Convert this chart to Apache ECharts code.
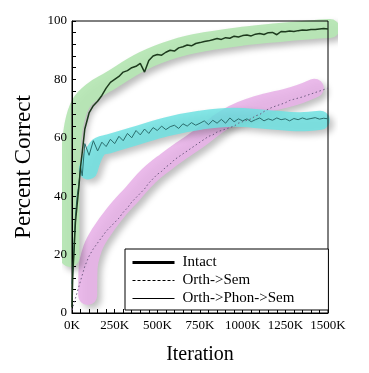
<!DOCTYPE html>
<html><head><meta charset="utf-8">
<script src="https://cdn.jsdelivr.net/npm/echarts@6/dist/echarts.min.js"></script>
<style>html,body{margin:0;padding:0;background:#fff}#c{width:369px;height:373px}</style>
</head><body><div id="c"></div>
<script>
// Iterations in thousands
const iterations = [0,5,10,15,20,30,40,50,60,75,100,125,150,175,200,225,250,275,300,325,350,375,400,425,450,475,500,525,550,575,600,625,650,675,700,725,750,775,800,825,850,875,900,925,950,975,1000,1025,1050,1075,1100,1125,1150,1175,1200,1225,1250,1275,1300,1325,1350,1375,1400,1425,1450,1475,1500];
const intact = [2,14,19,25,31,37,43,50,55,63,68.5,71,72.5,74.5,77,79,80,81,82.5,83,84,84.5,85.5,82.5,86.5,88,88.5,88.3,89.3,90,89.7,90.8,91.2,91.8,91.5,92.3,92.6,93,93.2,93.6,94,93.7,94.3,94.1,94.8,94.5,95,95.2,94.9,95.5,95.7,95.4,96,96.1,95.3,96.4,96.3,96.6,96.4,96.7,96.9,96.8,97.1,97.1,97.3,97.4,97.3];
const orthSem = [1,2,3,4,5,7,9,11,13,16,19.5,22,24,26,28,29.5,31,32.5,34.5,36,38,39.5,41,42.5,44.5,46,47.5,48.5,50,51,52.5,53.5,54.5,55.5,56.5,57.5,58.5,59.5,60.5,61,62,62.5,63,63.5,64,65,65.5,66,66.5,67.5,68,69,69.8,70.5,71,71.5,72,72.8,73.2,73.6,74,74.5,75,75.5,76,76.5,77];
const orthPhonSem = [10,14,20,27,33,40,44,50,47,58,54,59,55.5,58.5,57,59.5,58,60.5,59,61.5,60,62.5,61,63,61.5,63.5,62.5,64,62.8,63.8,64.3,63.2,64.8,64,65.2,64.3,65,65.8,64.5,66,65,66.3,65,66.8,65.5,66.5,65.8,66.5,65.5,66.2,66.8,65.8,66.5,66,66.8,66.2,66.5,65.8,66.6,66.2,66.8,66.3,66.6,66.9,66.4,66.7,66.5];

// Hand-drawn highlight bands (iteration in thousands, percent)
const greenBandX = [-12,-12,-6,10,50,123,222,416,600,790,1000,1200,1400,1512];
const greenBandY = [19,40,55,64,71.5,76,79.5,86.3,90.5,93,94.8,96,97,97.4];
const cyanBandX = [95,150,220,357,555,750,945,1140,1336,1455];
const cyanBandY = [49,56.5,58,60.4,63.8,66,67,66.3,65.5,66];
const pinkBandX = [92,94,120,164,250,357,450,555,650,750,850,945,1050,1140,1250,1336,1420];
const pinkBandY = [6,15,22,27,34,41,47,52,56,60,64.5,68,70.5,72,73.5,75,77];

const xTicks = ['0K','250K','500K','750K','1000K','1250K','1500K'];
const seriesNames = ['Intact','Orth->Sem','Orth->Phon->Sem'];

const pairs = (xs, ys) => xs.map((x, i) => [x, ys[i]]);
const serif = '"Liberation Serif","DejaVu Serif",serif';

function band(xs, ys, color, opacity, z2) {
  return {
    type: 'line', data: pairs(xs, ys), smooth: 0.4, symbol: 'none', clip: false, silent: true,
    lineStyle: { color: color, width: 19, opacity: opacity, cap: 'round', join: 'round',
      shadowColor: 'rgba(0,0,0,0.28)', shadowBlur: 6, shadowOffsetX: 4, shadowOffsetY: 4 },
    z: -1, zlevel: 0
  };
}

const chart = echarts.init(document.getElementById('c'), null, { renderer: 'canvas' });
chart.setOption({
  animation: false,
  backgroundColor: '#fff',
  grid: { left: 72, right: 41, top: 21, bottom: 60, show: true, borderColor: '#000', borderWidth: 1, backgroundColor: 'transparent' },
  xAxis: {
    type: 'value', min: 0, max: 1500, interval: 250,
    name: 'Iteration', nameLocation: 'middle', nameGap: 32,
    nameTextStyle: { fontFamily: serif, fontSize: 20, color: '#000' },
    axisLine: { lineStyle: { color: '#000', width: 1 } },
    axisTick: { inside: true, length: 4, lineStyle: { color: '#000' } },
    minorTick: { show: true, splitNumber: 5, length: 4, lineStyle: { color: '#000' } },
    splitLine: { show: false },
    axisLabel: { fontFamily: serif, fontSize: 13, color: '#000', margin: 6,
      formatter: v => xTicks[Math.round(v / 250)] }
  },
  yAxis: {
    type: 'value', min: 0, max: 100, interval: 20,
    name: 'Percent Correct', nameLocation: 'middle', nameGap: 37,
    nameTextStyle: { fontFamily: serif, fontSize: 23, color: '#000' },
    axisLine: { show: true, lineStyle: { color: '#000', width: 1 } },
    axisTick: { show: true, inside: true, length: 4, lineStyle: { color: '#000' } },
    minorTick: { show: true, splitNumber: 5, length: 4, lineStyle: { color: '#000' } },
    splitLine: { show: false },
    axisLabel: { fontFamily: serif, fontSize: 13, color: '#000', margin: 5 }
  },
  legend: {
    orient: 'vertical', left: 125, top: 249,
    padding: [6, 34, 4, 6], itemGap: 3, itemWidth: 42, itemHeight: 14,
    backgroundColor: '#fff', borderColor: '#000', borderWidth: 1,
    textStyle: { fontFamily: serif, fontSize: 15, color: '#000', padding: [0, 0, 0, 3] },
    data: [
      { name: seriesNames[0], itemStyle: { opacity: 0 }, lineStyle: { color: '#000', width: 3, type: 'solid' } },
      { name: seriesNames[1], itemStyle: { opacity: 0 }, lineStyle: { color: '#000', width: 1, type: [3, 2] } },
      { name: seriesNames[2], itemStyle: { opacity: 0 }, lineStyle: { color: '#000', width: 1, type: 'solid' } }
    ]
  },
  series: [
    band(pinkBandX, pinkBandY, '#e8b2e8', 0.9),
    band(greenBandX, greenBandY, '#b6e6b4', 0.95),
    band(cyanBandX, cyanBandY, '#6ee2e2', 0.85),
    { name: seriesNames[1], type: 'line', data: pairs(iterations, orthSem), symbol: 'none', z: 3,
      lineStyle: { color: '#6e5a80', width: 1, type: [1.5, 2.5] } },
    { name: seriesNames[2], type: 'line', data: pairs(iterations, orthPhonSem), symbol: 'none', z: 3,
      lineStyle: { color: '#2b6e6e', width: 1 } },
    { name: seriesNames[0], type: 'line', data: pairs(iterations, intact), symbol: 'none', z: 4,
      lineStyle: { color: '#1d3a1d', width: 1.5 } }
  ]
});
</script></body></html>
